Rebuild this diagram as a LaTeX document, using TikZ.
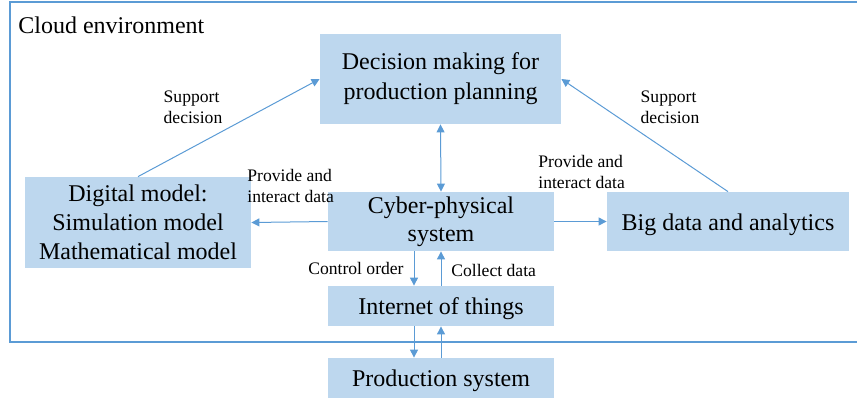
\documentclass[tikz,border=0pt]{standalone}
\usepackage{fontspec}
\setmainfont{Liberation Serif}
\usetikzlibrary{arrows.meta, positioning}
\definecolor{boxblue}{HTML}{BDD7EE}
\definecolor{lineblue}{HTML}{5B9BD5}
\tikzset{
  box/.style={fill=boxblue, inner sep=0pt, align=center, font=\fontsize{12}{14.5}\selectfont,
    execute at begin node={\rule{0pt}{#1}}},
  box/.default=11.3pt,
  conn/.style={draw=lineblue, line width=0.5pt, -{Triangle[width=4pt, length=4pt]}},
  lbl/.style={inner sep=0pt, font=\fontsize{8.8}{10.5}\selectfont}
}

\begin{document}
\begin{tikzpicture}[x=0.5pt, y=-0.5pt]
        \useasboundingbox (0, 0) rectangle (857, 398);
        % cloud frame, open to the right
        \draw[lineblue, line width=1pt] (870, 2) -- (10, 2) -- (10, 342) -- (870, 342);
        \node[anchor=base west, inner sep=0pt, font=\fontsize{12}{14}\selectfont] (cloud) at (18, 33) {Cloud environment};

        \node[box=14.2pt, font=\fontsize{12}{15}\selectfont, minimum width=120.5pt, minimum height=45pt] (decision) at (440.5, 79) {Decision making for\\production planning};
        \node[box=0pt, minimum width=113pt, minimum height=45.5pt] (digital) at (138, 222.5) {Digital model:\\Simulation model\\Mathematical model};
        \node[box=10.2pt, font=\fontsize{12}{14}\selectfont, minimum width=113pt, minimum height=29.5pt] (cps) at (441, 221.5) {Cyber-physical\\system};
        \node[box, minimum width=121pt, minimum height=29.5pt] (bigdata) at (728, 221.5) {Big data and analytics};
        \node[box, minimum width=113pt, minimum height=20pt] (iot) at (441, 306) {Internet of things};
        \node[box, minimum width=113pt, minimum height=20pt] (prod) at (441, 378) {Production system};

        \draw[conn, {Triangle[width=4pt, length=4pt]}-{Triangle[width=4pt, length=4pt]}] (decision.south) -- (cps.north);
        \draw[conn] (cps.west) -- (digital.east);
        \draw[conn] (cps.east) -- (bigdata.west);
        \draw[conn] ([xshift=-13.5pt]cps.south) -- ([xshift=-13.5pt]iot.north);
        \draw[conn] (iot.north) -- (cps.south);
        \draw[conn] ([xshift=-13.5pt]iot.south) -- ([xshift=-13.5pt]prod.north);
        \draw[conn] (prod.north) -- (iot.south);
        \draw[conn] (digital.north) -- (decision.west);
        \draw[conn] (bigdata.north) -- (decision.east);

        \node[lbl, align=left] (supleft) at (193, 107) {Support\\decision};
        \node[lbl, align=left] (supright) at (670, 107) {Support\\decision};
        \node[lbl, align=left, anchor=west] (provleft) at (247, 186) {Provide and\\interact data};
        \node[lbl, align=left, anchor=west] (provright) at (538, 172) {Provide and\\interact data};
        \node[lbl, anchor=east] (control) at (404, 268) {Control order};
        \node[lbl, anchor=west] (collect) at (451, 270) {Collect data};
    \end{tikzpicture}
\end{document}
